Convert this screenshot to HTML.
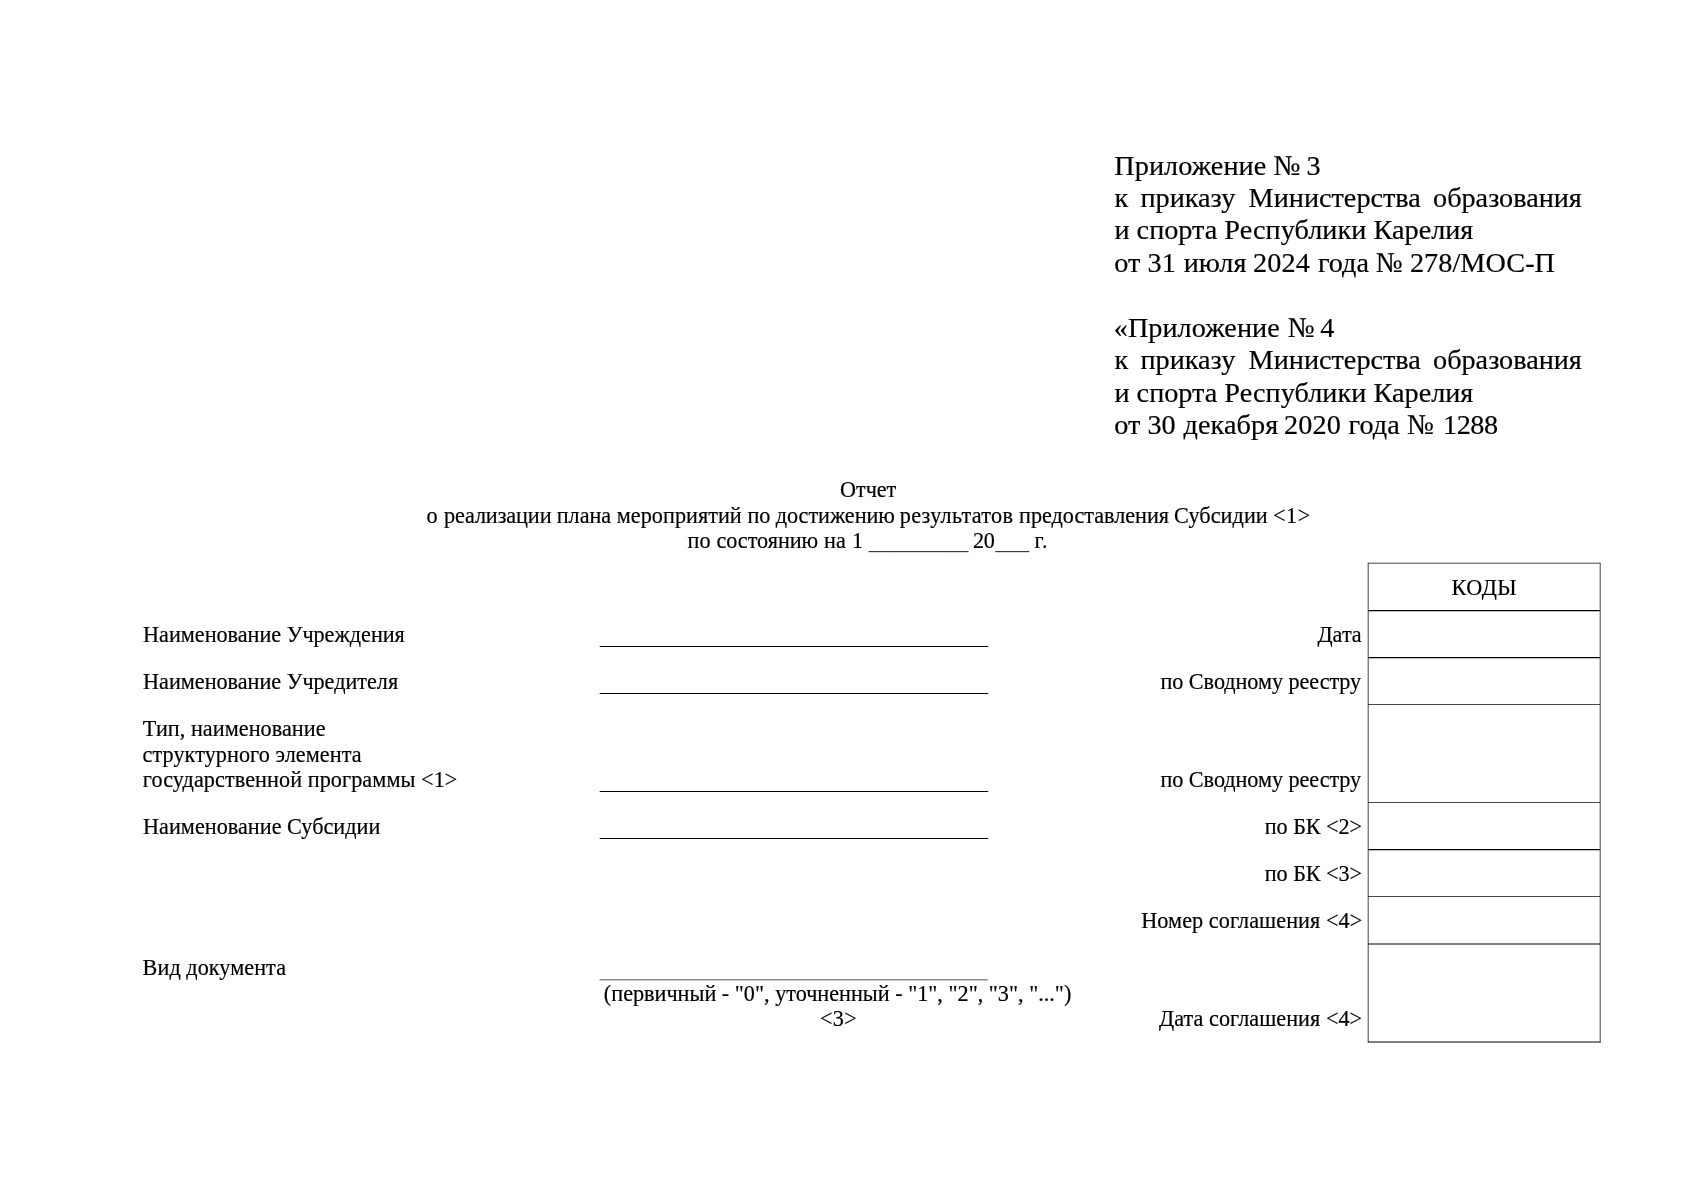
<!DOCTYPE html>
<html lang="ru">
<head>
<meta charset="utf-8">
<title>Отчет о реализации плана мероприятий</title>
<style>
html,body{margin:0;padding:0;background:#fff;}
body{width:1697px;height:1200px;position:relative;overflow:hidden;font-family:"Liberation Serif","Times New Roman",serif;color:#000;}
#pg{position:absolute;left:0;top:0;width:1697px;height:1200px;will-change:transform;}
.h,.b{position:absolute;white-space:pre;-webkit-text-stroke:0.2px #000;}
.h{font-size:28.22px;line-height:32.45px;}
.b{font-size:22.2px;line-height:25.53px;}
.u{color:#3a3a3a;-webkit-text-stroke:0;}
svg{position:absolute;left:0;top:0;}
</style>
</head>
<body>
<div id="pg">
<div>
<span class="h" id="h1w0" style="left:1114.27px;top:149.75px;letter-spacing:0.062px;">Приложение </span>
<span class="h" id="h1w1" style="left:1273.51px;top:149.75px;letter-spacing:-0.197px;">№ </span>
<span class="h" id="h1w2" style="left:1306.52px;top:149.75px;letter-spacing:0.180px;">3</span>
</div>
<div>
<span class="h" id="h2w0" style="left:1114.43px;top:181.75px;">к </span>
<span class="h" id="h2w1" style="left:1140.48px;top:181.75px;">приказу </span>
<span class="h" id="h2w2" style="left:1248.61px;top:181.75px;">Министерства </span>
<span class="h" id="h2w3" style="left:1433.07px;top:181.75px;letter-spacing:-0.008px;">образования</span>
</div>
<div>
<span class="h" id="h3w0" style="left:1114.43px;top:213.75px;letter-spacing:0.119px;">и </span>
<span class="h" id="h3w1" style="left:1136.61px;top:213.75px;letter-spacing:-0.005px;">спорта </span>
<span class="h" id="h3w2" style="left:1224.36px;top:213.75px;letter-spacing:0.052px;">Республики </span>
<span class="h" id="h3w3" style="left:1373.61px;top:213.75px;letter-spacing:-0.018px;">Карелия</span>
</div>
<div>
<span class="h" id="h4w0" style="left:1114.21px;top:246.75px;letter-spacing:0.155px;">от </span>
<span class="h" id="h4w1" style="left:1147.54px;top:246.75px;letter-spacing:0.038px;">31 </span>
<span class="h" id="h4w2" style="left:1183.66px;top:246.75px;letter-spacing:0.060px;">июля </span>
<span class="h" id="h4w3" style="left:1252.94px;top:246.75px;letter-spacing:0.179px;">2024 </span>
<span class="h" id="h4w4" style="left:1317.94px;top:246.75px;letter-spacing:-0.022px;">года </span>
<span class="h" id="h4w5" style="left:1375.80px;top:246.75px;letter-spacing:0.300px;">№ </span>
<span class="h" id="h4w6" style="left:1409.94px;top:246.75px;letter-spacing:0.060px;">278/МОС-П</span>
</div>
<div>
<span class="h" id="h5w0" style="left:1113.78px;top:311.75px;letter-spacing:0.039px;">«Приложение </span>
<span class="h" id="h5w1" style="left:1287.65px;top:311.75px;letter-spacing:-0.300px;">№ </span>
<span class="h" id="h5w2" style="left:1320.31px;top:311.75px;letter-spacing:-0.400px;">4</span>
</div>
<div>
<span class="h" id="h6w0" style="left:1114.43px;top:343.75px;">к </span>
<span class="h" id="h6w1" style="left:1140.48px;top:343.75px;">приказу </span>
<span class="h" id="h6w2" style="left:1248.61px;top:343.75px;">Министерства </span>
<span class="h" id="h6w3" style="left:1433.07px;top:343.75px;letter-spacing:-0.008px;">образования</span>
</div>
<div>
<span class="h" id="h7w0" style="left:1114.43px;top:376.75px;letter-spacing:0.119px;">и </span>
<span class="h" id="h7w1" style="left:1136.61px;top:376.75px;letter-spacing:-0.005px;">спорта </span>
<span class="h" id="h7w2" style="left:1224.36px;top:376.75px;letter-spacing:0.052px;">Республики </span>
<span class="h" id="h7w3" style="left:1373.61px;top:376.75px;letter-spacing:-0.018px;">Карелия</span>
</div>
<div>
<span class="h" id="h8w0" style="left:1114.21px;top:408.75px;letter-spacing:0.155px;">от </span>
<span class="h" id="h8w1" style="left:1147.54px;top:408.75px;letter-spacing:-0.195px;">30 </span>
<span class="h" id="h8w2" style="left:1183.55px;top:408.75px;letter-spacing:0.075px;">декабря </span>
<span class="h" id="h8w3" style="left:1284.09px;top:408.75px;letter-spacing:0.079px;">2020 </span>
<span class="h" id="h8w4" style="left:1348.40px;top:408.75px;letter-spacing:0.118px;">года </span>
<span class="h" id="h8w5" style="left:1407.00px;top:408.75px;letter-spacing:0.300px;">№ </span>
<span class="h" id="h8w6" style="left:1442.95px;top:408.75px;letter-spacing:-0.391px;">1288</span>
</div>
<div>
<span class="b" id="t2w0" style="left:426.55px;top:503.24px;letter-spacing:0.225px;">о </span>
<span class="b" id="t2w1" style="left:443.91px;top:503.24px;letter-spacing:-0.091px;">реализации </span>
<span class="b" id="t2w2" style="left:556.80px;top:503.24px;letter-spacing:-0.046px;">плана </span>
<span class="b" id="t2w3" style="left:616.69px;top:503.24px;letter-spacing:0.048px;">мероприятий </span>
<span class="b" id="t2w4" style="left:747.53px;top:503.24px;letter-spacing:-0.243px;">по </span>
<span class="b" id="t2w5" style="left:775.78px;top:503.24px;letter-spacing:-0.047px;">достижению </span>
<span class="b" id="t2w6" style="left:899.78px;top:503.24px;letter-spacing:0.296px;">результатов </span>
<span class="b" id="t2w7" style="left:1019.11px;top:503.24px;letter-spacing:-0.023px;">предоставления </span>
<span class="b" id="t2w8" style="left:1174.11px;top:503.24px;letter-spacing:0.072px;">Субсидии </span>
<span class="b" id="t2w9" style="left:1273.07px;top:503.24px;letter-spacing:0.497px;">&lt;1&gt;</span>
</div>
<div>
<span class="b" id="t3w0" style="left:687.55px;top:528.24px;letter-spacing:0.091px;">по </span>
<span class="b" id="t3w1" style="left:716.41px;top:528.24px;letter-spacing:-0.020px;">состоянию </span>
<span class="b" id="t3w2" style="left:823.91px;top:528.24px;letter-spacing:0.300px;">на </span>
<span class="b" id="t3w3" style="left:852.05px;top:528.24px;letter-spacing:-0.300px;">1 </span>
<span class="b u" id="t3w4" style="left:868.67px;top:529.24px;letter-spacing:-0.010px;">_________ </span>
<span class="b" id="t3w5" style="left:972.88px;top:528.24px;letter-spacing:-0.300px;">20</span>
<span class="b u" id="t3w6" style="left:995.45px;top:529.24px;letter-spacing:0.191px;">___ </span>
<span class="b" id="t3w7" style="left:1034.53px;top:528.24px;letter-spacing:0.900px;">г.</span>
</div>
<div>
<span class="b" id="t1" style="left:840.11px;top:477.24px;letter-spacing:-0.077px;">Отчет</span>
</div>
<div>
<span class="b" id="l1" style="left:143.05px;top:622.24px;letter-spacing:-0.010px;">Наименование Учреждения</span>
</div>
<div>
<span class="b" id="l2" style="left:143.05px;top:669.24px;letter-spacing:-0.010px;">Наименование Учредителя</span>
</div>
<div>
<span class="b" id="l3" style="left:142.83px;top:716.24px;letter-spacing:0.050px;">Тип, наименование</span>
</div>
<div>
<span class="b" id="l4" style="left:142.61px;top:742.24px;letter-spacing:0.071px;">структурного элемента</span>
</div>
<div>
<span class="b" id="l5" style="left:142.80px;top:767.24px;letter-spacing:0.077px;">государственной программы &lt;1&gt;</span>
</div>
<div>
<span class="b" id="l6" style="left:143.05px;top:814.24px;letter-spacing:0.021px;">Наименование Субсидии</span>
</div>
<div>
<span class="b" id="l7" style="left:142.61px;top:955.24px;letter-spacing:0.053px;">Вид документа</span>
</div>
<div>
<span class="b" id="c1" style="left:603.86px;top:981.24px;letter-spacing:0.007px;">(первичный - "0", уточненный - "1", "2", "3", "...")</span>
</div>
<div>
<span class="b" id="c2" style="left:819.94px;top:1006.24px;letter-spacing:0.388px;">&lt;3&gt;</span>
</div>
<div>
<span class="b" id="r1" style="left:1317.41px;top:622.24px;letter-spacing:0.031px;">Дата</span>
</div>
<div>
<span class="b" id="r2" style="left:1160.53px;top:669.24px;letter-spacing:-0.054px;">по Сводному реестру</span>
</div>
<div>
<span class="b" id="r3" style="left:1160.53px;top:767.24px;letter-spacing:-0.054px;">по Сводному реестру</span>
</div>
<div>
<span class="b" id="r4" style="left:1264.80px;top:814.24px;letter-spacing:-0.055px;">по БК &lt;2&gt;</span>
</div>
<div>
<span class="b" id="r5" style="left:1264.80px;top:861.24px;letter-spacing:-0.055px;">по БК &lt;3&gt;</span>
</div>
<div>
<span class="b" id="r6" style="left:1141.18px;top:908.24px;letter-spacing:0.076px;">Номер соглашения &lt;4&gt;</span>
</div>
<div>
<span class="b" id="r7" style="left:1159.04px;top:1006.24px;letter-spacing:0.052px;">Дата соглашения &lt;4&gt;</span>
</div>
<div>
<span class="b" id="k" style="left:1451.55px;top:575.24px;letter-spacing:0.498px;">КОДЫ</span>
</div>
<svg width="1697" height="1200" viewBox="0 0 1697 1200" fill="none" stroke="#000">
<g stroke-width="1.06">
<line x1="599.7" y1="646.5" x2="988.3" y2="646.5"/>
<line x1="599.7" y1="693.5" x2="988.3" y2="693.5"/>
<line x1="599.7" y1="791.5" x2="988.3" y2="791.5"/>
<line x1="599.7" y1="838.5" x2="988.3" y2="838.5"/>
</g>
<line x1="599.5" y1="979.85" x2="987.9" y2="979.85" stroke-width="0.7"/>
<g stroke-width="0.72">
<line x1="1368.19" y1="562.85" x2="1368.19" y2="1042.6"/>
<line x1="1600.19" y1="562.85" x2="1600.19" y2="1042.6"/>
<line x1="1367.85" y1="563.19" x2="1600.5" y2="563.19"/>
<line x1="1367.85" y1="1042" x2="1600.5" y2="1042" stroke-width="1.15"/>
<line x1="1368" y1="704.5" x2="1600" y2="704.5"/>
<line x1="1368" y1="802.5" x2="1600" y2="802.5"/>
<line x1="1368" y1="896.5" x2="1600" y2="896.5"/>
<line x1="1368" y1="944" x2="1600" y2="944" stroke-width="1.15"/>
</g>
<g stroke-width="1.15">
<line x1="1368" y1="610.57" x2="1600" y2="610.57"/>
<line x1="1368" y1="657.57" x2="1600" y2="657.57"/>
<line x1="1368" y1="849.57" x2="1600" y2="849.57"/>
</g>
</svg>

</div>
</body>
</html>
